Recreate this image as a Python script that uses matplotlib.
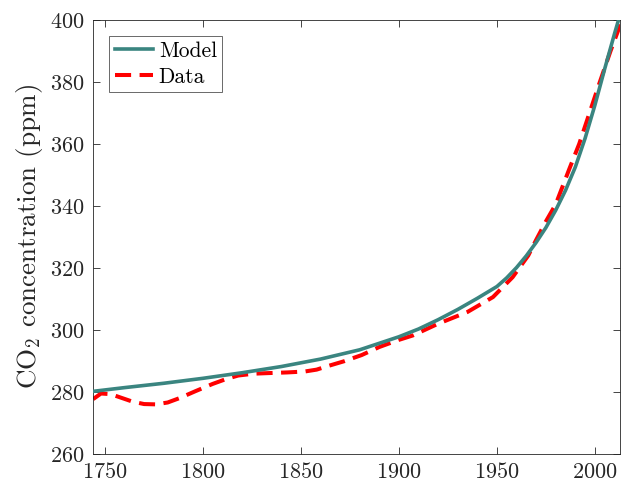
import numpy as np
import matplotlib
matplotlib.use("Agg")
import matplotlib.pyplot as plt

# model curve
model_years = [1744, 1760, 1780, 1800, 1820, 1840, 1860, 1880, 1900, 1910, 1920, 1930,
               1940, 1950, 1955, 1960, 1965, 1970, 1975, 1980, 1985, 1990, 1995,
               2000, 2005, 2010, 2013]
model_ppm = [280.2, 281.4, 282.8, 284.4, 286.2, 288.2, 290.6, 293.6, 297.8, 300.3, 303.3, 306.6,
             310.2, 314.0, 316.8, 320.1, 323.9, 328.2, 333.0, 338.6, 345.0, 352.5, 361.8,
             372.5, 384.2, 395.5, 402.0]

# observed data
data_years = [1744, 1748, 1753, 1758, 1764, 1770, 1776, 1782, 1788, 1796, 1805, 1812, 1818,
              1826, 1834, 1843, 1852, 1858, 1864, 1872, 1881, 1890, 1900, 1907, 1920,
              1935, 1948, 1958, 1966, 1970, 1975, 1980, 1987, 1992, 1997, 2002,
              2008, 2013]
data_ppm = [277.7, 279.5, 279.3, 278.2, 276.9, 276.1, 276.0, 276.6, 278.0, 280.2, 282.6, 284.2, 285.3,
            285.9, 286.1, 286.3, 286.6, 287.2, 288.4, 289.9, 291.9, 294.5, 296.8, 298.2, 302.0,
            305.8, 310.6, 317.0, 324.0, 329.0, 335.0, 340.5, 352.0, 360.0, 369.5, 379.0,
            390.0, 398.5]

plt.rcParams['font.family'] = 'serif'
plt.rcParams['font.serif'] = ['cmr10', 'DejaVu Serif']
plt.rcParams['mathtext.fontset'] = 'cm'
plt.rcParams['axes.formatter.use_mathtext'] = True

fig = plt.figure(figsize=(6.21, 4.90), dpi=100)
ax = fig.add_axes([0.150, 0.0735, 0.849, 0.886])

ax.plot(model_years, model_ppm, color='#3a8580', lw=2.6, label='Model', zorder=3)
ax.plot(data_years, data_ppm, color='#ff0000', lw=2.9, ls=(0, (4.0, 2.1)), label='Data', zorder=2)

ax.set_xlim(1744, 2013)
ax.set_ylim(260, 400)
ax.set_xticks([1750, 1800, 1850, 1900, 1950, 2000])
ax.set_yticks(np.arange(260, 401, 20))
ax.tick_params(direction='in', length=5, width=0.6, top=True, right=True,
               labelsize=16, colors='#262626', pad=6)
for sp in ax.spines.values():
    sp.set_color('#262626')
    sp.set_linewidth(0.6)

ax.set_ylabel(r'CO$_2$ concentration (ppm)', fontsize=19.5, color='#262626', labelpad=4)

leg = ax.legend(loc='upper left', fontsize=15.5, frameon=True, fancybox=False,
                edgecolor='#262626', handlelength=1.8, borderpad=0.25,
                labelspacing=0.3, handletextpad=0.25, borderaxespad=0.75)
leg.get_frame().set_linewidth(0.6)

fig.savefig('out.png', dpi=100)
